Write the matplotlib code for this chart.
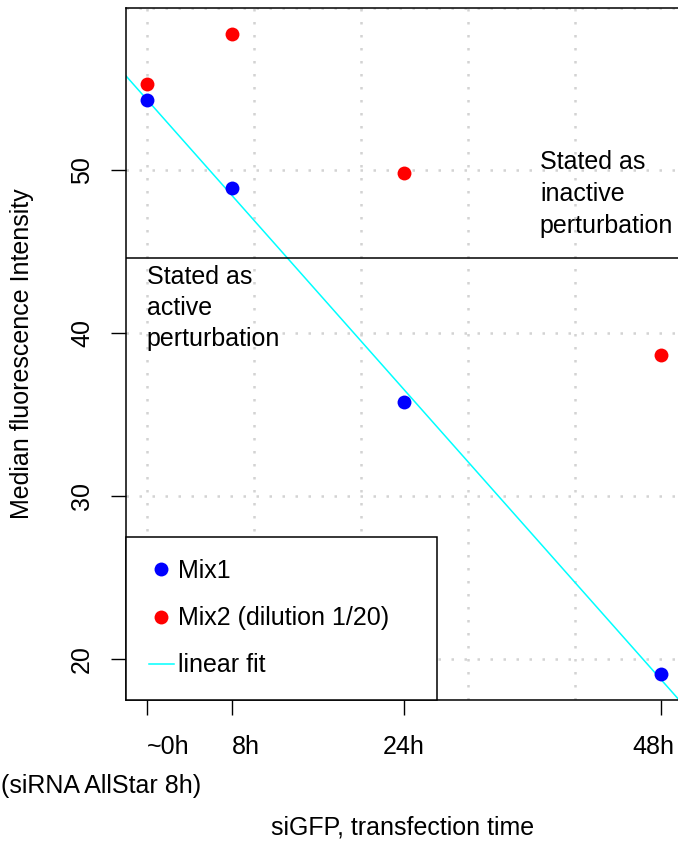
import numpy as np
import matplotlib
matplotlib.use("Agg")
import matplotlib.pyplot as plt
from matplotlib.transforms import ScaledTranslation

plt.rcParams["font.family"] = ["Liberation Sans", "DejaVu Sans"]

# data
hours = [0, 8, 24, 48]
tick_labels = ["~0h", "8h", "24h", "48h"]
mix1 = [54.35, 48.95, 35.75, 19.05]
mix2 = [55.3, 58.4, 49.85, 38.65]
threshold = 44.6

fig = plt.figure(figsize=(6.78, 8.42), dpi=100)
W, H = 678, 842
# plot region; right edge runs slightly past the image (cropped like the original)
left, right, top, bottom = 126, 681.6, 8, 700
ax = fig.add_axes([left / W, 1 - bottom / H, (right - left) / W, (bottom - top) / H])

# R-style 4% padding
xr = max(hours) - min(hours)
ax.set_xlim(min(hours) - 0.04 * xr, max(hours) + 0.04 * xr)
ally = mix1 + mix2
yr = max(ally) - min(ally)
ax.set_ylim(min(ally) - 0.04 * yr, max(ally) + 0.04 * yr)

# dotted grid (pretty positions, as in R grid())
grid_kw = dict(color="#d3d3d3", lw=1.8, ls=(0, (1, 4.2)), zorder=0)
for gx in [0, 10, 20, 30, 40]:
    ax.axvline(gx, **grid_kw)
for gy in [20, 30, 40, 50, 60]:
    ax.axhline(gy, **grid_kw)

ax.plot(hours, mix1, "o", color="blue", ms=10, mew=0, label="Mix1", zorder=3)
ax.plot(hours, mix2, "o", color="red", ms=10, mew=0, label="Mix2 (dilution 1/20)", zorder=3)

b, a = np.polyfit(hours, mix1, 1)
ax.axline((0, a), slope=b, color="cyan", lw=1.1, label="linear fit", zorder=2)
ax.axhline(threshold, color="black", lw=1.1, zorder=2)

ax.text(36.7, 48.55, "Stated as\ninactive\nperturbation", fontsize=18,
        ha="left", va="center", linespacing=1.4)
ax.text(0.0, 41.55, "Stated as\nactive\nperturbation", fontsize=18,
        ha="left", va="center", linespacing=1.37)

ax.set_xticks(hours)
ax.set_xticklabels(tick_labels)
ax.set_yticks([20, 30, 40, 50])
ax.tick_params(axis="both", labelsize=18, length=11, width=1, direction="out")
ax.tick_params(axis="x", pad=14)
ax.tick_params(axis="y", pad=12)
for lab in ax.get_yticklabels():
    lab.set_rotation(90)
    lab.set_va("center")

# x labels placed as in the original
xl = ax.get_xticklabels()
xl[0].set_ha("left")
xl[1].set_ha("left")
xl[3].set_transform(xl[3].get_transform() + ScaledTranslation(-8 / 100, 0, fig.dpi_scale_trans))

for s in ax.spines.values():
    s.set_linewidth(1.1)

leg = ax.legend(loc="lower left", bbox_to_anchor=(0, 0, 311 / (right - left), 0.2),
                mode="expand", borderaxespad=0, fancybox=False, framealpha=1,
                edgecolor="black", fontsize=18, handlelength=1.0,
                handletextpad=0.2, borderpad=0.9, labelspacing=0.93)
leg.get_frame().set_linewidth(1.1)

fig.text(22 / W, 1 - 354 / H, "Median fluorescence Intensity", fontsize=18,
         rotation=90, ha="center", va="center")
fig.text(101 / W, 1 - 786 / H, "(siRNA AllStar 8h)", fontsize=18, ha="center", va="center")
fig.text(403 / W, 1 - 827 / H, "siGFP, transfection time", fontsize=18, ha="center", va="center")

fig.savefig("out.png", dpi=100)
